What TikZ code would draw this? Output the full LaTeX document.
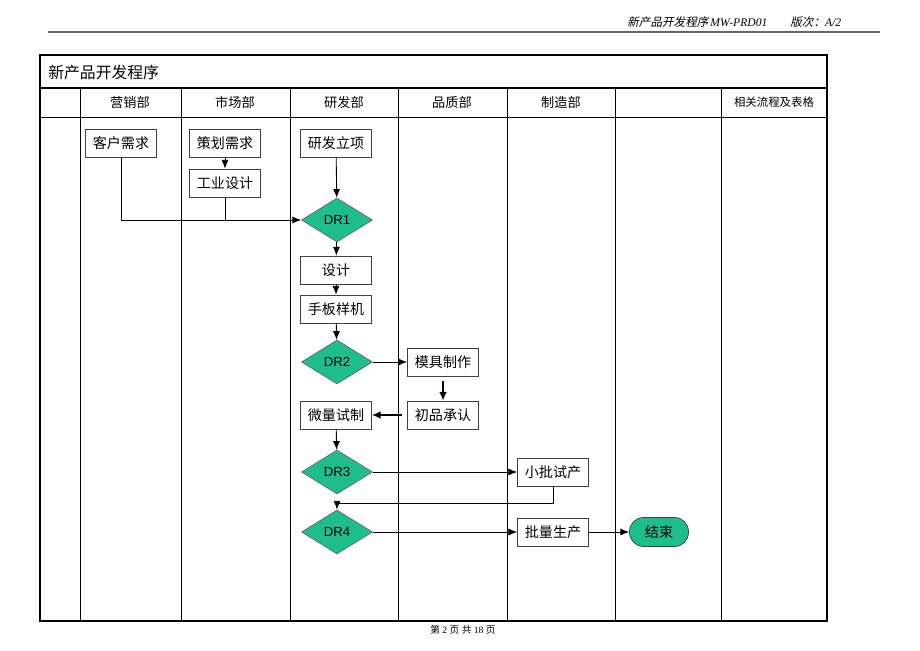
\documentclass[tikz,border=0pt]{standalone}
\usepackage{fontspec}
\setmainfont{Liberation Serif}
\newfontfamily\cjk{Noto Sans CJK SC}
\newfontfamily\cjkit[FakeSlant=0.2]{Noto Sans CJK SC}
\newfontfamily\drfont{Liberation Sans}
\usetikzlibrary{arrows.meta}
\usetikzlibrary{shapes.geometric}
\definecolor{drgreen}{RGB}{30,190,140}
\tikzset{
stepbox/.style={draw=black!75, fill=white, minimum width=1.42cm, minimum height=0.56cm, inner sep=0pt, font=\cjk\fontsize{8}{8}\selectfont},
review/.style={shape=diamond, draw=black!60, fill=drgreen, minimum width=1.42cm, minimum height=0.88cm, inner sep=0pt, font=\drfont\fontsize{7.5}{7.5}\selectfont},
flow/.style={-{Latex[length=5pt,width=4pt]}, black, line width=0.5pt},
boldflow/.style={-{Latex[length=5pt,width=4.5pt]}, black, line width=1.1pt},
lane/.style={font=\cjk\fontsize{7.5}{7.5}\selectfont}
}

\begin{document}
\begin{tikzpicture}[x=0.02cm, y=-0.02cm]
            \useasboundingbox (0,0) rectangle (920,651);

            % page header and footer
            \draw[black!60, line width=0.6pt] (48,32) -- (880,32);
            \node[anchor=west, inner sep=0pt] (doctitle) at (627,22) {\fontsize{6.6}{6.6}\selectfont{\cjkit 新产品开发程序}\,\textit{MW-PRD01}};
            \node[anchor=west, inner sep=0pt] (docrev) at (790,22) {\fontsize{6.6}{6.6}\selectfont{\cjkit 版次：}\textit{A/2}};
            \node[inner sep=0pt] (pageno) at (463,630) {\fontsize{5.5}{5.5}\selectfont{\cjk 第}~2~{\cjk 页}~{\cjk 共}~18~{\cjk 页}};

            % table
            \draw[line width=1.3pt] (40,55) rectangle (827,621);
            \draw[line width=1.3pt] (40,88) -- (827,88);
            \draw[line width=0.5pt] (40,117) -- (827,117);
            \foreach \x in {80,181,290,398,507,615,721}
                \draw[line width=0.5pt] (\x,88) -- (\x,621);
            \node[anchor=west, inner sep=0pt, font=\cjk\fontsize{9}{9}\selectfont] (proc) at (48,73) {新产品开发程序};
            \node[lane] (sales) at (130,102) {营销部};
            \node[lane] (market) at (235,102) {市场部};
            \node[lane] (rnd) at (344,102) {研发部};
            \node[lane] (quality) at (452,102) {品质部};
            \node[lane] (mfg) at (561,102) {制造部};
            \node[lane, font=\cjk\fontsize{6.5}{6.5}\selectfont] (forms) at (774,102) {相关流程及表格};

            % steps
            \node[stepbox] (need) at (121,143) {客户需求};
            \node[stepbox] (plan) at (225,143) {策划需求};
            \node[stepbox] (indus) at (225,183) {工业设计};
            \node[stepbox] (start) at (336,143) {研发立项};
            \node[review] (dr1) at (337,220) {DR1};
            \node[stepbox] (design) at (336,270) {设计};
            \node[stepbox] (proto) at (336,309) {手板样机};
            \node[review] (dr2) at (337,362) {DR2};
            \node[stepbox] (mould) at (443,362) {模具制作};
            \node[stepbox] (approve) at (443,415) {初品承认};
            \node[stepbox] (trial) at (336,415) {微量试制};
            \node[review] (dr3) at (337,472) {DR3};
            \node[stepbox] (pilot) at (553,472) {小批试产};
            \node[review] (dr4) at (337,532) {DR4};
            \node[stepbox] (mass) at (553,532) {批量生产};
            \node[draw=black!75, fill=drgreen, rounded corners=0.28cm, minimum width=1.18cm, minimum height=0.58cm, inner sep=0pt, font=\cjk\fontsize{8}{8}\selectfont] (finish) at (659,532) {结束};
            \coordinate (turn) at (337,503);

            % connectors
            \draw[flow] (need.south) |- (dr1.west);
            \draw[line width=0.5pt] (indus.south) -- (indus.south |- dr1.west);
            \draw[flow] (plan) -- (indus);
            \draw[flow] (start) -- (dr1);
            \draw[flow] (dr1) -- (design);
            \draw[flow] (design) -- (proto);
            \draw[flow] (proto) -- (dr2);
            \draw[flow] (dr2.east) -- (mould.west);
            \draw[boldflow] ([yshift=-0.1cm]mould.south) -- (approve.north);
            \draw[boldflow] ([xshift=-0.1cm]approve.west) -- (trial.east);
            \draw[flow] (trial) -- (dr3);
            \draw[flow] (dr3.east) -- (pilot.west);
            \draw[flow] (pilot.south) |- (turn) -- (dr4.north);
            \draw[flow] (dr4.east) -- (mass.west);
            \draw[flow] (mass) -- (finish);

\end{tikzpicture}
\end{document}
